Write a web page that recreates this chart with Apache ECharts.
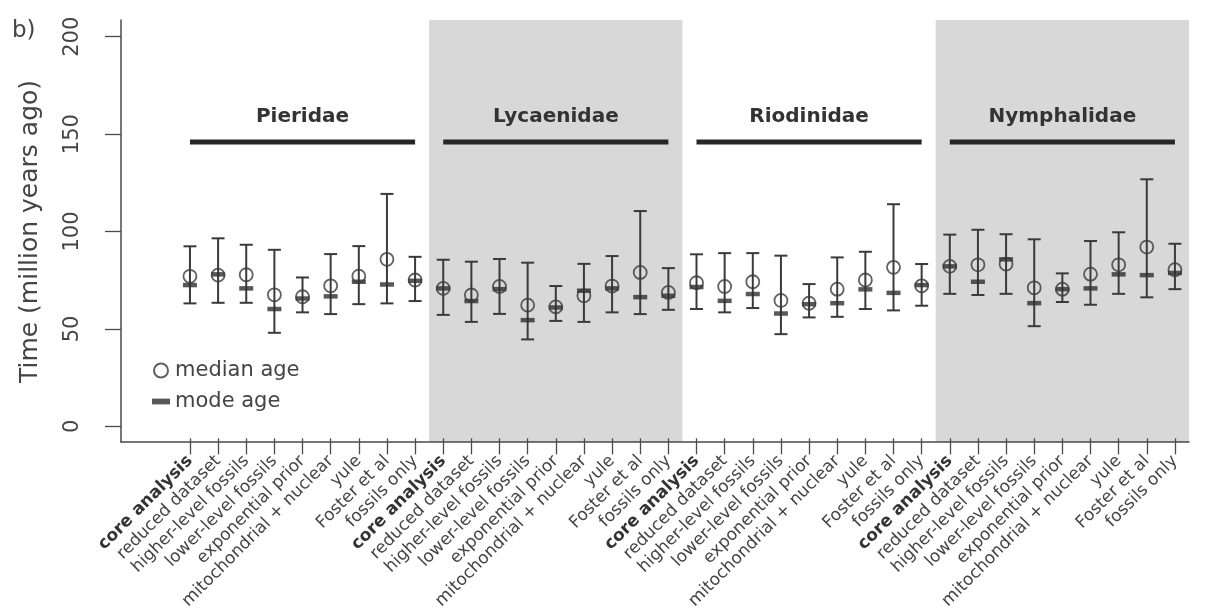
<!DOCTYPE html>
<html>
<head>
<meta charset="utf-8">
<script src="https://cdn.jsdelivr.net/npm/echarts@6/dist/echarts.min.js"></script>
<style>html,body{margin:0;padding:0;background:#fff;}#chart{width:1208px;height:612px;}</style>
</head>
<body>
<div id="chart"></div>
<script>
// ---- data ----
const methods = ['core analysis', 'reduced dataset', 'higher-level fossils', 'lower-level fossils',
  'exponential prior', 'mitochondrial + nuclear', 'yule', 'Foster et al', 'fossils only'];
const families = ['Pieridae', 'Lycaenidae', 'Riodinidae', 'Nymphalidae'];
const shadedFamilies = ['Lycaenidae', 'Nymphalidae'];
const familyBarAge = 146;
const yTickMin = 0, yTickMax = 200, yTickStep = 50;

const medianAge = [77.0, 77.6, 77.8, 67.5, 66.5, 72.1, 77.1, 85.7, 75.1,
  70.8, 67.4, 71.8, 62.2, 61.3, 67.0, 72.0, 79.0, 68.7,
  73.7, 71.8, 74.2, 64.6, 63.2, 70.4, 75.1, 81.6, 72.1,
  82.1, 82.9, 83.3, 71.1, 70.4, 78.1, 82.9, 92.0, 80.4];
const modeAge = [72.5, 78.0, 70.8, 60.2, 65.6, 66.7, 74.2, 72.8, 74.7,
  70.8, 64.3, 70.4, 54.5, 61.0, 69.6, 70.8, 66.3, 67.0,
  71.5, 64.4, 67.9, 57.9, 62.7, 63.2, 70.3, 68.5, 72.5,
  82.1, 74.2, 85.7, 63.2, 70.4, 70.8, 78.0, 77.6, 78.7];
const lowerAge = [63.1, 63.4, 63.4, 48.0, 58.5, 57.6, 62.7, 63.1, 64.3,
  57.2, 53.6, 57.7, 44.6, 54.1, 53.6, 58.5, 57.6, 59.8,
  60.2, 58.5, 60.7, 47.3, 55.9, 56.2, 60.2, 59.5, 61.9,
  68.0, 67.4, 68.0, 51.4, 63.8, 62.4, 68.0, 66.2, 70.4];
const upperAge = [92.4, 96.5, 93.2, 90.6, 76.4, 88.4, 92.5, 119.3, 87.0,
  85.5, 84.5, 85.9, 84.0, 72.0, 83.4, 87.4, 110.5, 81.2,
  88.3, 88.9, 88.9, 87.6, 73.0, 86.7, 89.6, 114.0, 83.3,
  98.4, 100.9, 98.6, 96.0, 78.5, 95.1, 99.6, 126.8, 93.7];

// ---- derived ----
const categories = families.flatMap(() => methods);
const n = categories.length;
const per = methods.length;
const xMin = -2.45, xMax = n - 0.5;

const chart = echarts.init(document.getElementById('chart'), null, {renderer: 'canvas'});
const FONT = "'DejaVu Sans', sans-serif";
const AXIS_COLOR = '#4a4a4a';
const TEXT_COLOR = '#444';

const option = {
  backgroundColor: '#fff',
  animation: false,
  textStyle: {fontFamily: FONT},
  graphic: [{
    type: 'text', left: 12, top: 20,
    style: {text: 'b)', font: "23px 'DejaVu Sans', sans-serif", fill: TEXT_COLOR}
  }],
  legend: {
    orient: 'vertical', left: 147, top: 355,
    itemWidth: 18, itemHeight: 14, itemGap: 10,
    textStyle: {fontSize: 21, color: TEXT_COLOR, fontFamily: FONT},
    data: [
      {name: 'median age', icon: 'circle'},
      {name: 'mode age', icon: 'path://M0,0H14V4.5H0Z'}
    ]
  },
  grid: [
    {left: 121, right: 19, top: 36.7, bottom: 185.7},
    {left: 121, right: 19, top: 20, bottom: 170},
    {left: 190 - 14.07, right: 19, top: 20, bottom: 170}
  ],
  xAxis: [
    {gridIndex: 0, type: 'value', min: xMin, max: xMax, show: false},
    {gridIndex: 1, type: 'value', min: xMin, max: xMax, z: 10,
      axisLine: {show: true, onZero: false, lineStyle: {color: AXIS_COLOR, width: 1.5}},
      axisTick: {show: false}, axisLabel: {show: false}, splitLine: {show: false}},
    {gridIndex: 2, type: 'category', data: categories, boundaryGap: true,
      axisLine: {show: false, onZero: false},
      axisTick: {show: true, alignWithLabel: true, interval: 0, length: 16, lineStyle: {color: AXIS_COLOR, width: 1.3}},
      axisLabel: {
        interval: 0, rotate: 45, margin: 20, fontSize: 17, color: TEXT_COLOR, fontFamily: FONT,
        formatter: v => v === methods[0] ? '{b|' + v + '}' : v,
        rich: {b: {fontWeight: 'bold', fontSize: 17, color: '#333', fontFamily: FONT}}
      },
      splitLine: {show: false}}
  ],
  yAxis: [
    {gridIndex: 0, type: 'value', min: yTickMin, max: yTickMax, interval: yTickStep,
      name: 'Time (million years ago)', nameLocation: 'middle', nameGap: 78,
      nameTextStyle: {fontSize: 25, color: TEXT_COLOR, fontFamily: FONT},
      axisLine: {show: false, onZero: false},
      axisTick: {show: true, length: 16, lineStyle: {color: AXIS_COLOR, width: 1.3}},
      axisLabel: {rotate: 90, margin: 38, fontSize: 21, color: TEXT_COLOR, fontFamily: FONT},
      splitLine: {show: false}},
    {gridIndex: 1, type: 'value', min: 0, max: 1, z: 10,
      axisLine: {show: true, onZero: false, lineStyle: {color: AXIS_COLOR, width: 1.5}},
      axisTick: {show: false}, axisLabel: {show: false}, splitLine: {show: false}},
    {gridIndex: 2, type: 'value', show: false, axisLine: {onZero: false}}
  ],
  series: [
    {
      type: 'custom', name: 'shading', xAxisIndex: 1, yAxisIndex: 1, z: 0, silent: true,
      data: shadedFamilies.map(f => {
        const k = families.indexOf(f);
        return [k * per - 0.5, k * per + per - 0.5];
      }),
      renderItem: (params, api) => {
        const a = api.coord([api.value(0), 1]);
        const b = api.coord([api.value(1), 0]);
        return {type: 'rect', shape: {x: a[0], y: a[1], width: b[0] - a[0], height: b[1] - a[1]},
          style: {fill: '#d8d8d8'}};
      }
    },
    {
      type: 'custom', name: 'families', xAxisIndex: 0, yAxisIndex: 0, z: 3, silent: true,
      data: families.map((f, k) => [k * per, k * per + per - 1, familyBarAge, f]),
      renderItem: (params, api) => {
        const p1 = api.coord([api.value(0), api.value(2)]);
        const p2 = api.coord([api.value(1), api.value(2)]);
        return {type: 'group', children: [
          {type: 'line', shape: {x1: p1[0], y1: p1[1], x2: p2[0], y2: p2[1]},
            style: {stroke: '#262626', lineWidth: 5}},
          {type: 'text', x: (p1[0] + p2[0]) / 2, y: p1[1] - 25,
            style: {text: families[params.dataIndex], font: "bold 20px 'DejaVu Sans', sans-serif",
              fill: '#333', align: 'center', verticalAlign: 'middle'}}
        ]};
      }
    },
    {
      type: 'custom', name: 'interval', xAxisIndex: 0, yAxisIndex: 0, z: 3, silent: true,
      data: categories.map((c, i) => [i, lowerAge[i], upperAge[i]]),
      renderItem: (params, api) => {
        const lo = api.coord([api.value(0), api.value(1)]);
        const hi = api.coord([api.value(0), api.value(2)]);
        const w = 6.5;
        const st = {stroke: '#3a3a3a', lineWidth: 2};
        return {type: 'group', children: [
          {type: 'line', shape: {x1: hi[0], y1: hi[1], x2: lo[0], y2: lo[1]}, style: st},
          {type: 'line', shape: {x1: hi[0] - w, y1: hi[1], x2: hi[0] + w, y2: hi[1]}, style: st},
          {type: 'line', shape: {x1: lo[0] - w, y1: lo[1], x2: lo[0] + w, y2: lo[1]}, style: st}
        ]};
      }
    },
    {
      type: 'scatter', name: 'mode age', xAxisIndex: 0, yAxisIndex: 0, z: 4,
      symbol: 'rect', symbolSize: [14, 4.5],
      itemStyle: {color: '#2e2e2e'},
      data: modeAge.map((v, i) => [i, v])
    },
    {
      type: 'scatter', name: 'median age', xAxisIndex: 0, yAxisIndex: 0, z: 5,
      symbol: 'circle', symbolSize: 13,
      itemStyle: {color: 'rgba(0,0,0,0)', borderColor: '#3a3a3a', borderWidth: 1.8},
      data: medianAge.map((v, i) => [i, v])
    }
  ]
};
chart.setOption(option);
</script>
</body>
</html>
